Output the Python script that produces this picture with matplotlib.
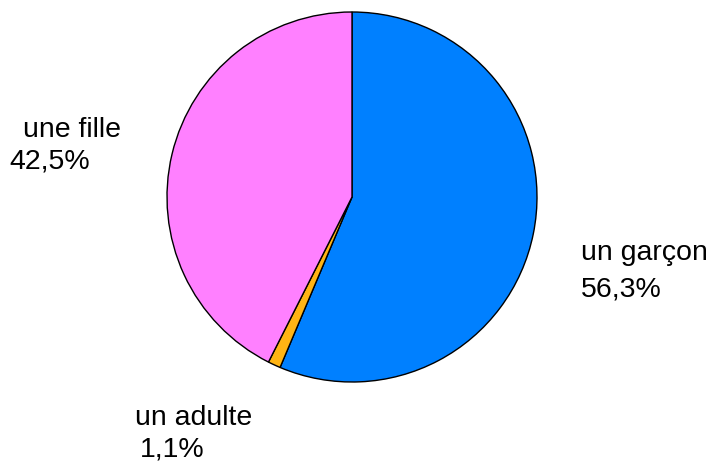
import matplotlib.pyplot as plt

# répartition des réponses
categories = ['un garçon', 'un adulte', 'une fille']
valeurs = [56.3, 1.1, 42.5]
etiquettes = ['56,3%', '1,1%', '42,5%']
couleurs = ['#0080FF', '#FFB414', '#FF80FF']

plt.rcParams['font.family'] = ['Liberation Sans', 'DejaVu Sans']

W, H = 716, 467
fig = plt.figure(figsize=(W / 100, H / 100), dpi=100)

# camembert centré en (352, 197) px, rayon 185 px
cx, cy, r = 352, 197, 185
ax = fig.add_axes([(cx - r) / W, (H - cy - r) / H, 2 * r / W, 2 * r / H])
ax.pie(valeurs, colors=couleurs, startangle=90, counterclock=False,
       wedgeprops=dict(edgecolor='black', linewidth=1.0))
ax.set_xlim(-1, 1)
ax.set_ylim(-1, 1)
ax.set_aspect('equal')
ax.axis('off')

def texte(x, y, s):
    fig.text(x / W, 1 - y / H, s, fontsize=20.5, va='baseline', ha='left')

texte(581, 260, categories[0])
texte(581, 296, etiquettes[0])
texte(135, 425, categories[1])
texte(140, 457, etiquettes[1])
texte(23, 137, categories[2])
texte(9, 168, etiquettes[2])

fig.savefig('out.png', dpi=100)
